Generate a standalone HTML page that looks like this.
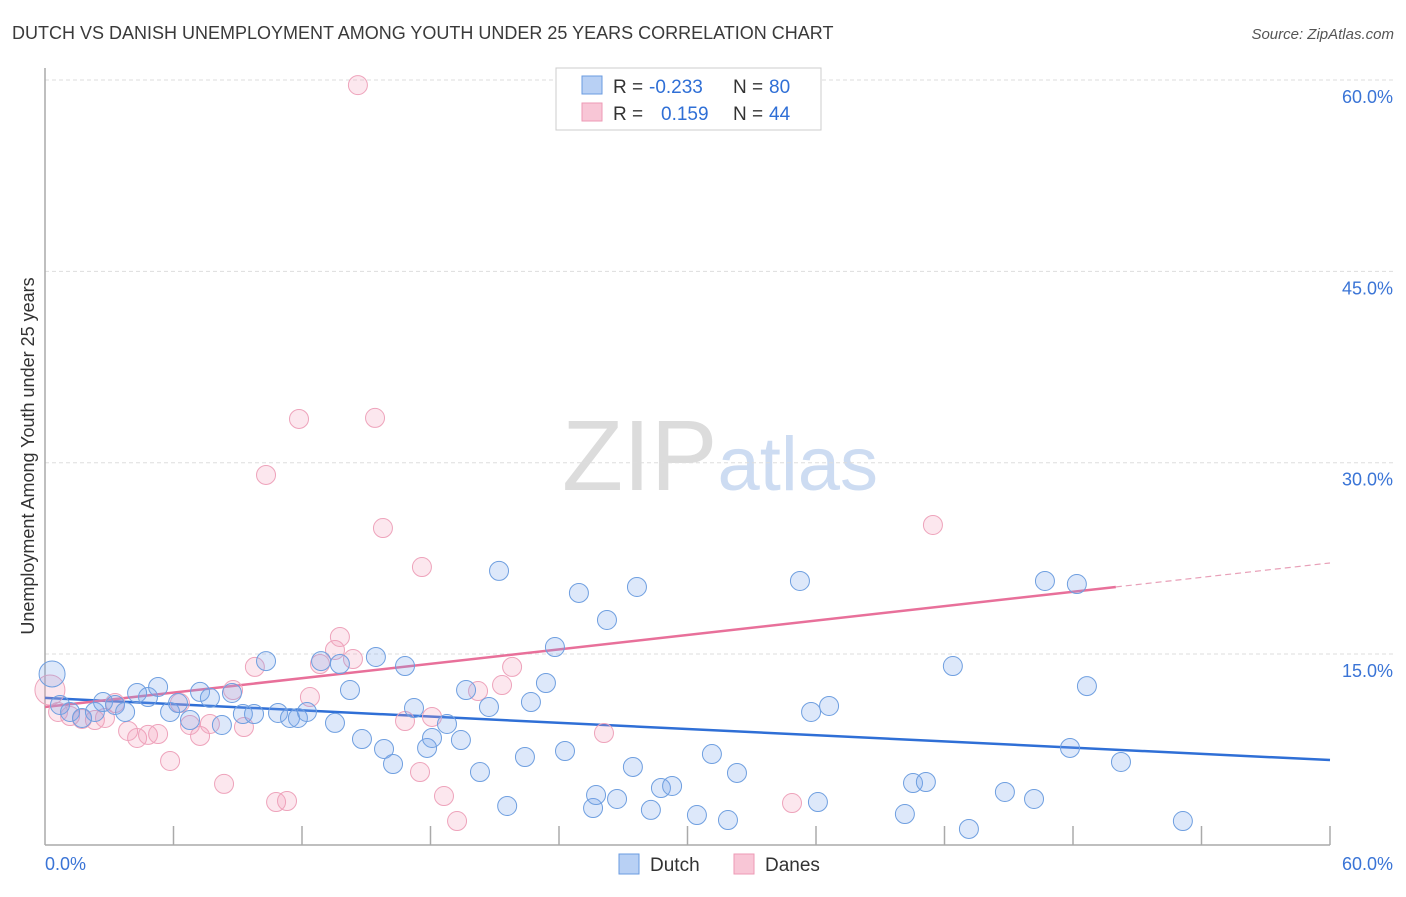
<!DOCTYPE html>
<html><head><meta charset="utf-8">
<style>
body{margin:0;background:#fff;font-family:"Liberation Sans",sans-serif;}
svg text{font-family:"Liberation Sans",sans-serif;}
</style></head>
<body>
<svg id="chart" width="1406" height="892" xmlns="http://www.w3.org/2000/svg">
<text x="12" y="39" font-size="18" fill="#3a3a3a">DUTCH VS DANISH UNEMPLOYMENT AMONG YOUTH UNDER 25 YEARS CORRELATION CHART</text>
<text x="1394" y="39" font-size="15" fill="#555" text-anchor="end" font-style="italic">Source: ZipAtlas.com</text>
<text x="720" y="490" font-size="100" text-anchor="middle" fill="#dcdcdc" font-family="Liberation Serif,serif">ZIP<tspan fill="#cddcf2" font-family="Liberation Sans,sans-serif" font-size="76">atlas</tspan></text>
<text transform="translate(34,456) rotate(-90)" font-size="18" fill="#333" text-anchor="middle">Unemployment Among Youth under 25 years</text>
<g id="grid"></g><g id="axes"></g><g id="trend"></g><g id="pts"></g>
<g>
<rect x="556" y="68" width="265" height="62" fill="#fff" stroke="#ccc"/>
<rect x="582" y="76" width="20" height="18" fill="#b8d0f4" stroke="#6a9be0"/>
<rect x="582" y="103" width="20" height="18" fill="#f8c6d6" stroke="#ee9ab5"/>
<text x="613" y="93" font-size="19" fill="#333">R =</text>
<text x="649" y="93" font-size="19" fill="#2f6fd6">-0.233</text>
<text x="733" y="93" font-size="19" fill="#333">N =</text>
<text x="769" y="93" font-size="19" fill="#2f6fd6">80</text>
<text x="613" y="120" font-size="19" fill="#333">R =</text>
<text x="661" y="120" font-size="19" fill="#2f6fd6">0.159</text>
<text x="733" y="120" font-size="19" fill="#333">N =</text>
<text x="769" y="120" font-size="19" fill="#2f6fd6">44</text>
</g>
<g>
<rect x="619" y="854" width="20" height="20" fill="#b8d0f4" stroke="#6a9be0"/>
<text x="650" y="871" font-size="19" fill="#333">Dutch</text>
<rect x="734" y="854" width="20" height="20" fill="#f8c6d6" stroke="#ee9ab5"/>
<text x="765" y="871" font-size="19" fill="#333">Danes</text>
</g>
</svg>
<script>
const yTicks=[15,30,45,60];
const yTickLabels=["15.0%","30.0%","45.0%","60.0%"];
const xLabels=["0.0%","60.0%"];
const dutchX=[0.33,0.70,1.17,1.73,2.33,2.71,3.27,3.74,4.30,4.81,5.28,5.84,6.21,6.77,7.24,7.70,8.26,8.73,9.24,9.76,10.32,10.88,11.44,11.81,12.23,12.89,13.54,13.77,14.24,14.80,15.45,15.83,16.25,16.81,17.23,17.84,18.07,18.77,19.42,19.66,20.31,20.73,21.20,21.58,22.41,22.69,23.39,23.81,24.28,24.93,25.59,25.73,26.24,26.71,27.45,27.64,28.29,28.76,29.28,30.44,31.14,31.89,32.31,35.25,35.77,36.09,36.61,40.15,40.53,41.13,42.39,43.14,44.82,46.18,46.69,47.86,48.18,48.65,50.24,53.13];
const dutchY=[13.44,11.01,10.46,9.99,10.46,11.24,11.01,10.46,11.95,11.63,12.42,10.46,11.16,9.83,12.03,11.56,9.44,11.95,10.30,10.30,14.45,10.38,9.99,9.99,10.46,14.45,9.60,14.22,12.18,8.34,14.77,7.56,6.38,14.06,10.77,7.64,8.42,9.52,8.26,12.18,5.75,10.85,21.52,3.09,6.93,11.24,12.73,15.55,7.40,19.79,2.93,3.95,17.67,3.64,6.15,20.26,2.78,4.50,4.66,2.38,7.16,1.99,5.68,20.73,10.46,3.40,10.93,2.46,4.89,4.97,14.06,1.29,4.19,3.64,20.73,7.64,20.49,12.49,6.54,1.91];
const danesX=[0.23,0.61,1.17,1.73,2.33,2.80,3.27,3.88,4.30,4.81,5.28,5.84,6.30,6.77,7.24,7.70,8.36,8.78,9.29,9.80,10.32,10.79,11.30,11.86,12.37,12.84,13.54,13.77,14.38,14.61,15.41,15.78,16.81,17.51,17.60,18.07,18.63,19.24,20.22,21.34,21.81,26.10,34.88,41.46];
const danesY=[12.18,10.46,10.14,9.91,9.83,9.99,11.16,8.97,8.42,8.66,8.73,6.62,11.16,9.44,8.58,9.52,4.82,12.18,9.28,13.99,29.04,3.40,3.48,33.43,11.63,14.22,15.32,16.34,14.61,59.60,33.51,24.88,9.75,5.75,21.82,10.07,3.87,1.91,12.10,12.57,13.99,8.81,3.32,25.12];
const dutchTrend=[11.56,6.69];
const danesTrend=[10.85,20.26,22.14];
const trendX=[0,60];
const danesTrendSolidEnd=50;

const NS="http://www.w3.org/2000/svg";
const X0=45,X1=1330,Y0=845.4,Y60=80;
function sx(v){return X0+(X1-X0)*v/60;}
function sy(v){return Y0-(Y0-Y60)*v/60;}
function mk(tag,attrs,parent){const e=document.createElementNS(NS,tag);for(const k in attrs)e.setAttribute(k,attrs[k]);parent.appendChild(e);return e;}
const grid=document.getElementById('grid'),axes=document.getElementById('axes'),trend=document.getElementById('trend'),pts=document.getElementById('pts');
yTicks.forEach((t,i)=>{
  const l=mk('line',{x1:X0,x2:1394,y1:sy(t),y2:sy(t),stroke:'#ddd','stroke-dasharray':'4 3'},grid);
  
  
  const tx=mk('text',{x:1393,y:sy(t)+23,'font-size':18,fill:'#3a74d6','text-anchor':'end'},grid);
  tx.textContent=yTickLabels[i];
  
  
});
let a=mk('line',{x1:X0,x2:X0,y1:68,y2:845,stroke:'#aaa','stroke-width':1.5},axes);


a=mk('line',{x1:X0,x2:X1,y1:845,y2:845,stroke:'#aaa','stroke-width':1.5},axes);


for(let i=1;i<=10;i++){
  const t=mk('line',{x1:sx(i*6),x2:sx(i*6),y1:826,y2:845,stroke:'#aaa','stroke-width':1.5},axes);
  
  
}
let xl=mk('text',{x:45,y:870,'font-size':18,fill:'#3a74d6'},axes);xl.textContent=xLabels[0];


xl=mk('text',{x:1393,y:870,'font-size':18,fill:'#3a74d6','text-anchor':'end'},axes);xl.textContent=xLabels[1];



function drawPts(xs,ys,fill,stroke,name,bigR){
  xs.forEach((x,i)=>{
    const c=mk('circle',{cx:sx(x),cy:sy(ys[i]),r:i===0?bigR:9.5,fill:fill,stroke:stroke,'stroke-width':1},pts);
    
    
  });
}
drawPts(danesX,danesY,'rgba(242,160,188,0.25)','#eea3bb','danes-point',15);
drawPts(dutchX,dutchY,'rgba(120,165,235,0.25)','#6f9fe0','dutch-point',13);

let tl=mk('line',{x1:sx(trendX[0]),y1:sy(dutchTrend[0]),x2:sx(trendX[1]),y2:sy(dutchTrend[1]),stroke:'#2f6fd6','stroke-width':2.5},trend);


tl=mk('line',{x1:sx(trendX[0]),y1:sy(danesTrend[0]),x2:sx(danesTrendSolidEnd),y2:sy(danesTrend[1]),stroke:'#e8709a','stroke-width':2.5},trend);


tl=mk('line',{x1:sx(danesTrendSolidEnd),y1:sy(danesTrend[1]),x2:sx(trendX[1]),y2:sy(danesTrend[2]),stroke:'#e8a0b8','stroke-width':1.2,'stroke-dasharray':'6 4'},trend);


</script>
</body></html>
